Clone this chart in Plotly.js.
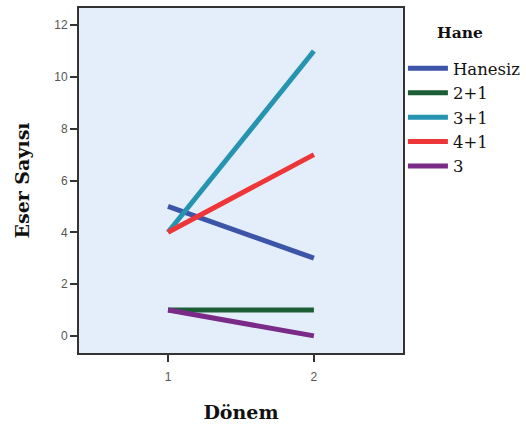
<!DOCTYPE html>
<html>
<head>
<meta charset="utf-8">
<script src="https://cdn.plot.ly/plotly-3.0.1.min.js"></script>
<style>html,body{margin:0;padding:0;background:#fff;}#chart{width:526px;height:425px;}</style>
</head>
<body>
<div id="chart"></div>
<script>
const periods = [1, 2];
const seriesNames = ["Hanesiz", "2+1", "3+1", "4+1", "3"];
const hanesiz = [5, 3];
const iki1 = [1, 1];
const uc1 = [4, 11];
const dort1 = [4, 7];
const uc = [1, 0];
const seriesValues = [hanesiz, iki1, uc1, dort1, uc];
const seriesColors = ["#3D55A8", "#1B5E35", "#2594B0", "#EE3639", "#7A2A87"];
const yTicks = [0, 2, 4, 6, 8, 10, 12];
const legendTitle = "Hane";

const traces = seriesNames.map((n, i) => ({
  x: periods, y: seriesValues[i], name: n, type: "scatter", mode: "lines",
  line: {color: seriesColors[i], width: 5}
}));

const serif = "DejaVu Serif, serif";
const tickFont = {family: "Liberation Sans, Arial, sans-serif", size: 12, color: "#555"};
const layout = {
  width: 526, height: 425,
  margin: {l: 79, r: 123, t: 8, b: 72},
  paper_bgcolor: "#ffffff",
  plot_bgcolor: "#E4EEFA",
  showlegend: true,
  legend: {
    xref: "container", yref: "container",
    x: 0.766, xanchor: "left", y: 0.88, yanchor: "top",
    font: {family: serif, size: 16.5, color: "#111"},
    bgcolor: "rgba(0,0,0,0)", tracegroupgap: 0, itemwidth: 40
  },
  annotations: [{
    text: "<b>" + legendTitle + "</b>", xref: "paper", yref: "paper",
    x: 1.175, y: 0.928, xanchor: "center", yanchor: "middle", showarrow: false,
    font: {family: serif, size: 15.5, color: "#111"}
  }],
  xaxis: {
    range: [0.39, 2.61], tickvals: periods, ticktext: periods.map(String),
    ticks: "outside", ticklen: 7, tickwidth: 2, tickcolor: "#333",
    ticklabelstandoff: 5,
    showgrid: false, zeroline: false, showline: true, linecolor: "#333", linewidth: 2, mirror: true,
    tickfont: tickFont,
    title: {text: "<b>Dönem</b>", font: {family: serif, size: 19, color: "#111"}, standoff: 22}
  },
  yaxis: {
    range: [-0.66, 12.66], tickvals: yTicks, ticktext: yTicks.map(String),
    ticks: "outside", ticklen: 7, tickwidth: 2, tickcolor: "#333",
    showgrid: false, zeroline: false, showline: true, linecolor: "#333", linewidth: 2, mirror: true,
    tickfont: tickFont,
    title: {text: "<b>Eser Sayısı</b>", font: {family: serif, size: 19, color: "#111"}, standoff: 20}
  }
};
Plotly.newPlot("chart", traces, layout, {displayModeBar: false, staticPlot: true});
</script>
</body>
</html>
